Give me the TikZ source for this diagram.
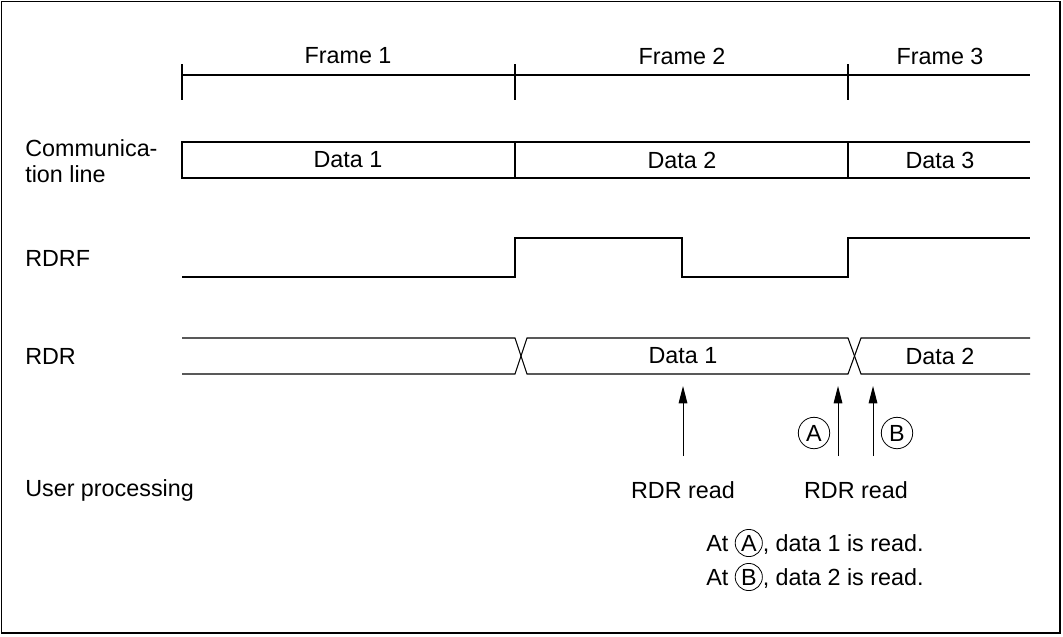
\documentclass[tikz,border=0pt]{standalone}
\usepackage{fontspec}
\setmainfont{Liberation Sans}
\usetikzlibrary{positioning,arrows.meta}

\tikzset{
  lbl/.style={inner sep=0.75pt, font=\fontsize{17.5}{19}\selectfont},
  sig/.style={line width=0.8pt},
  rdarrow/.style={-{Triangle[length=13pt,width=6.5pt]}, line width=0.75pt},
  letterring/.style={circle, draw, line width=0.6pt, inner sep=2.4pt, font=\fontsize{17.5}{19}\selectfont}
}
\newcommand{\ringtxt}[1]{\tikz[baseline=(c.base),x=1cm,y=1cm,yscale=1]\node[circle,draw,line width=0.6pt,inner sep=1.3pt](c){#1};}

\begin{document}
\begin{tikzpicture}[x=0.75pt,y=0.75pt,yscale=-1,xscale=1]
\useasboundingbox (0,0) rectangle (1063,636);
\draw [line width=0.9pt] (1.5,1.5) rectangle (1060,633);

% frame ruler
\draw [sig] (182,75) -- (1030,75) ;
\foreach \x in {182,515,848}
  \draw [sig] (\x,64) -- (\x,100) ;
\node [lbl] (fr1) at (348,56) {Frame 1};
\node [lbl] (fr2) at (682,56) {Frame 2};
\node [lbl] (fr3) at (940,56) {Frame 3};

% communication line
\draw [sig] (1030,142) -- (182,142) -- (182,178) -- (1030,178) ;
\draw [sig] (515,142) -- (515,178) ;
\draw [sig] (848,142) -- (848,178) ;
\node [lbl, anchor=west, align=left] (comm) at (24,161) {Communica-\\tion line};
\node [lbl] (d1) at (348,160) {Data 1};
\node [lbl] (d2) at (682,160) {Data 2};
\node [lbl] (d3) at (940,160) {Data 3};

% RDRF
\draw [sig] (182,277) -- (515,277) -- (515,238) -- (682,238) -- (682,277) -- (848,277) -- (848,238) -- (1030,238) ;
\node [lbl, anchor=west] (rdrf) at (24,258) {RDRF};

% RDR
\draw [sig] (182,338) -- (515,338) -- (527,374) -- (848,374) -- (861,338) -- (1030,338) ;
\draw [sig] (182,374) -- (515,374) -- (527,338) -- (848,338) -- (861,374) -- (1030,374) ;
\node [lbl, anchor=west] (rdr) at (24,356) {RDR};
\node [lbl] (r1) at (683,356) {Data 1};
\node [lbl] (r2) at (940,356) {Data 2};

% user processing
\node [lbl, anchor=west] (user) at (24,490) {User processing};
\node [lbl] (read1) at (683,490) {RDR read};
\node [lbl] (read2) at (856,490) {RDR read};
\coordinate (p1) at (683,456);
\coordinate (q1) at (683,386);
\coordinate (p2) at (838,456);
\coordinate (q2) at (838,386);
\coordinate (p3) at (873,456);
\coordinate (q3) at (873,386);
\draw [rdarrow] (p1) -- (q1) ;
\draw [rdarrow] (p2) -- (q2) ;
\draw [rdarrow] (p3) -- (q3) ;
\node [letterring] (ca) at (814,433) {A};
\node [letterring] (cb) at (897,433) {B};

% notes
\node [lbl, anchor=west] (note1) at (705,543) {At \ringtxt{A}, data 1 is read.};
\node [lbl, anchor=west] (note2) at (705,577) {At \ringtxt{B}, data 2 is read.};
\end{tikzpicture}
\end{document}
